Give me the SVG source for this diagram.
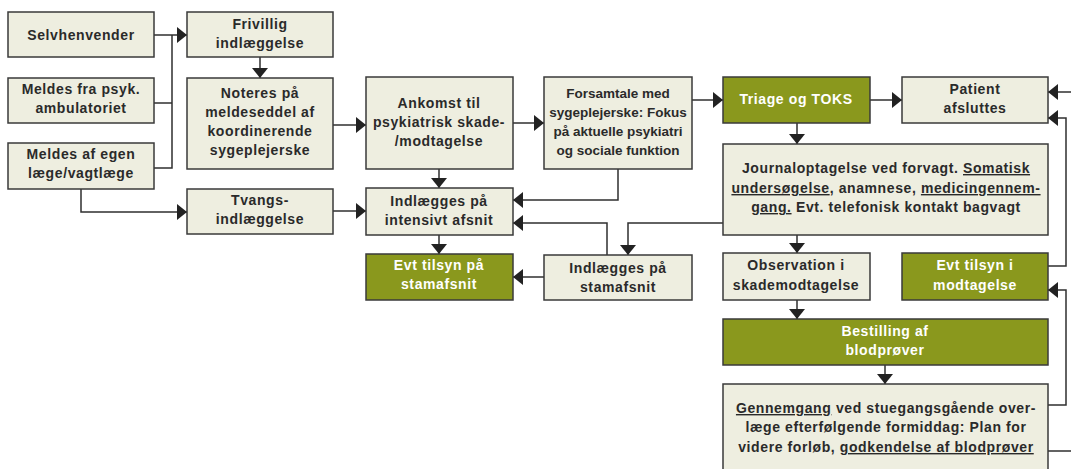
<svg xmlns="http://www.w3.org/2000/svg" width="1071" height="469" viewBox="0 0 1071 469">
<style>
.box{fill:#EEEEE0;stroke:#3a3a3a;stroke-width:1.5}
.grn{fill:#8A981D;stroke:#3a3a3a;stroke-width:1.5}
text{font-family:"Liberation Sans",Arial,sans-serif;font-weight:bold;font-size:14px;letter-spacing:0.6px;text-anchor:middle;fill:#2a2a2a}
.w{fill:#ffffff}
.n{font-size:13.5px;letter-spacing:0px}
.u{text-decoration:underline}
.c path{fill:none;stroke:#2f2f2f;stroke-width:1.5}
</style>
<defs>
<marker id="ah" markerUnits="userSpaceOnUse" markerWidth="10" markerHeight="16" refX="10" refY="8" orient="auto">
<path d="M0,0 L10,8 L0,16 z" fill="#222"/>
</marker>
</defs>
<rect width="1071" height="469" fill="#ffffff"/>
<g class="c">
<path d="M154,35 H187" marker-end="url(#ah)"/>
<path d="M154,103 H172"/>
<path d="M154,168 H172 V35"/>
<path d="M81,189 V212 H187" marker-end="url(#ah)"/>
<path d="M260,57 V78" marker-end="url(#ah)"/>
<path d="M333,125 H366" marker-end="url(#ah)"/>
<path d="M333,211 H366" marker-end="url(#ah)"/>
<path d="M513,123 H544" marker-end="url(#ah)"/>
<path d="M439,169 V188" marker-end="url(#ah)"/>
<path d="M618,169 V200 H513" marker-end="url(#ah)"/>
<path d="M607,255 V223 H513" marker-end="url(#ah)"/>
<path d="M723,223 H628 V255" marker-end="url(#ah)"/>
<path d="M439,235 V254" marker-end="url(#ah)"/>
<path d="M544,277 H513" marker-end="url(#ah)"/>
<path d="M692,100 H723" marker-end="url(#ah)"/>
<path d="M870,100 H902" marker-end="url(#ah)"/>
<path d="M797,123 V144" marker-end="url(#ah)"/>
<path d="M797,235 V253" marker-end="url(#ah)"/>
<path d="M797,300 V319" marker-end="url(#ah)"/>
<path d="M885,365 V384" marker-end="url(#ah)"/>
<path d="M1071,92 H1048" marker-end="url(#ah)"/>
<path d="M1048,266 H1066 V118 H1048" marker-end="url(#ah)"/>
<path d="M1048,405 H1066 V290 H1048" marker-end="url(#ah)"/>
<path d="M1048,451 H1071"/>
</g>
<g id="selvhenvender"><rect class="box" x="8" y="12" width="146" height="45"/><text x="81" y="40">Selvhenvender</text></g>
<g id="meldes-psyk"><rect class="box" x="8" y="78" width="146" height="45"/><text x="81" y="94">Meldes fra psyk.</text><text x="81" y="113">ambulatoriet</text></g>
<g id="meldes-egen"><rect class="box" x="8" y="143" width="146" height="46"/><text x="81" y="159">Meldes af egen</text><text x="81" y="178">læge/vagtlæge</text></g>
<g id="frivillig"><rect class="box" x="187" y="12" width="146" height="45"/><text x="260" y="29">Frivillig</text><text x="260" y="48">indlæggelse</text></g>
<g id="noteres"><rect class="box" x="187" y="78" width="146" height="91"/><text x="260" y="98">Noteres på</text><text x="260" y="117">meldeseddel af</text><text x="260" y="136">koordinerende</text><text x="260" y="155">sygeplejerske</text></g>
<g id="tvangs"><rect class="box" x="187" y="189" width="146" height="45"/><text x="260" y="205">Tvangs-</text><text x="260" y="224">indlæggelse</text></g>
<g id="ankomst"><rect class="box" x="366" y="77" width="147" height="92"/><text x="439" y="108">Ankomst til</text><text x="439" y="127">psykiatrisk skade-</text><text x="439" y="146">/modtagelse</text></g>
<g id="forsamtale"><rect class="box" x="544" y="77" width="148" height="92"/><text class="n" x="618" y="98">Forsamtale med</text><text class="n" x="618" y="117">sygeplejerske: Fokus</text><text class="n" x="618" y="136">på aktuelle psykiatri</text><text class="n" x="618" y="155">og sociale funktion</text></g>
<g id="intensivt"><rect class="box" x="366" y="188" width="147" height="47"/><text x="439" y="206">Indlægges på</text><text x="439" y="225">intensivt afsnit</text></g>
<g id="tilsyn-stam"><rect class="grn" x="366" y="254" width="147" height="46"/><text class="w" x="439" y="270">Evt tilsyn på</text><text class="w" x="439" y="289">stamafsnit</text></g>
<g id="stamafsnit"><rect class="box" x="544" y="255" width="148" height="45"/><text x="618" y="273">Indlægges på</text><text x="618" y="292">stamafsnit</text></g>
<g id="triage"><rect class="grn" x="723" y="77" width="147" height="46"/><text class="w" x="796" y="104">Triage og TOKS</text></g>
<g id="patient"><rect class="box" x="902" y="77" width="146" height="46"/><text x="975" y="94">Patient</text><text x="975" y="113">afsluttes</text></g>
<g id="journal"><rect class="box" x="723" y="144" width="325" height="91"/>
<text x="886" y="173">Journaloptagelse ved forvagt. <tspan class="u">Somatisk </tspan></text>
<text x="886" y="193"><tspan class="u">undersøgelse</tspan>, anamnese, <tspan class="u">medicingennem-</tspan></text>
<text x="886" y="212"><tspan class="u">gang.</tspan> Evt. telefonisk kontakt bagvagt</text></g>
<g id="observation"><rect class="box" x="723" y="253" width="147" height="47"/><text x="796" y="270">Observation i</text><text x="796" y="290">skademodtagelse</text></g>
<g id="tilsyn-modt"><rect class="grn" x="902" y="253" width="146" height="47"/><text class="w" x="975" y="270">Evt tilsyn i</text><text class="w" x="975" y="290">modtagelse</text></g>
<g id="bestilling"><rect class="grn" x="723" y="319" width="325" height="46"/><text class="w" x="885" y="336">Bestilling af</text><text class="w" x="885" y="355">blodprøver</text></g>
<g id="gennemgang"><rect class="box" x="723" y="384" width="325" height="100"/>
<text x="886" y="413"><tspan class="u">Gennemgang</tspan> ved stuegangsgående over-</text>
<text x="886" y="432">læge efterfølgende formiddag: Plan for</text>
<text x="886" y="452">videre forløb, <tspan class="u">godkendelse af blodprøver</tspan></text></g>
</svg>
